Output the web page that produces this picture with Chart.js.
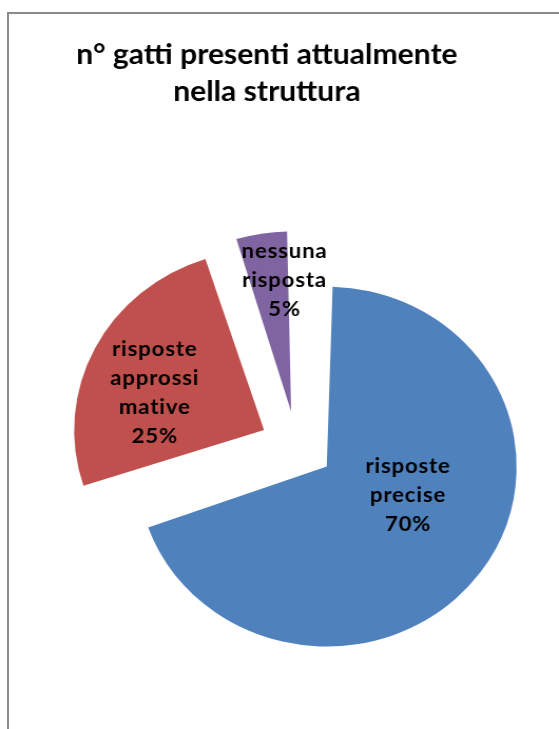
<!DOCTYPE html>
<html>
<head>
<meta charset="utf-8">
<script src="https://cdn.jsdelivr.net/npm/chart.js@4.4.1/dist/chart.umd.min.js"></script>
<style>
  html, body { margin: 0; padding: 0; background: #fff; overflow: hidden; }
  .frame {
    position: absolute; left: 7px; top: 12px; width: 600px; height: 800px;
    border-left: 2px solid #8a8a8a; border-top: 2px solid #8a8a8a;
  }
  .stage {
    position: absolute; left: 0; top: 0; width: 530px; height: 729px;
    transform: scaleX(1.0547); transform-origin: 0 0;
  }
</style>
</head>
<body>
<div class="frame"></div>
<div class="stage"><canvas id="chart"></canvas></div>
<script>
const titleLines = ["n° gatti presenti attualmente", "nella struttura"];
const categories = [["risposte", "precise"], ["risposte", "approssi", "mative"], ["nessuna", "risposta"]];
const values = [70, 25, 5];
const sliceColors = ["#4F81BD", "#C0504D", "#8064A2"];

// exploded slices: chart.js grows the radius of an offset arc, put it back to the pie radius
// and write the category + percentage inside each slice
const sliceLabels = {
  id: "sliceLabels",
  beforeDatasetsDraw(chart) {
    const meta = chart.getDatasetMeta(0);
    const R = meta.controller.outerRadius;
    meta.data.forEach(arc => {
      const shift = (arc.options.offset || 0) / 4;
      const fix = 1 - Math.sin(Math.min(Math.PI, arc.circumference));
      arc.outerRadius = R - shift * fix;
    });
  },
  afterDatasetsDraw(chart, args, opts) {
    const ctx = chart.ctx;
    const meta = chart.getDatasetMeta(0);
    const R = meta.controller.outerRadius;
    const total = values.reduce((a, b) => a + b, 0);
    ctx.save();
    ctx.font = opts.font;
    ctx.letterSpacing = opts.letterSpacing;
    ctx.fillStyle = "#000";
    ctx.textAlign = "center";
    ctx.textBaseline = "middle";
    meta.data.forEach((arc, i) => {
      const p = opts.place[i];
      const mid = (arc.startAngle + arc.endAngle) / 2;
      const shift = (arc.options.offset || 0) / 4;
      const a = arc.startAngle + p.t * (arc.endAngle - arc.startAngle);
      const cx = arc.x + Math.cos(mid) * shift + Math.cos(a) * p.r * R;
      const cy = arc.y + Math.sin(mid) * shift + Math.sin(a) * p.r * R;
      const lines = categories[i].concat(Math.round(values[i] / total * 100) + "%");
      lines.forEach((s, k) => {
        ctx.fillText(s, cx, cy + (k - (lines.length - 1) / 2) * opts.lineHeight);
      });
    });
    ctx.restore();
  },
  afterDraw(chart, args, opts) {
    const ctx = chart.ctx;
    ctx.save();
    ctx.font = opts.titleFont;
    ctx.fillStyle = "#000";
    ctx.textAlign = "center";
    ctx.textBaseline = "alphabetic";
    titleLines.forEach((s, k) => ctx.fillText(s, opts.titleX, opts.titleY + k * opts.titleLineHeight));
    ctx.restore();
  }
};

new Chart(document.getElementById("chart"), {
  type: "pie",
  data: {
    labels: categories.map(c => c.join(" ")),
    datasets: [{
      data: values,
      backgroundColor: sliceColors,
      borderWidth: 0,
      offset: 140,
      clip: false
    }]
  },
  options: {
    responsive: true,
    maintainAspectRatio: false,
    animation: false,
    radius: 180,
    layout: { padding: { left: 73, right: 40, top: 200, bottom: 37 } },
    plugins: {
      legend: { display: false },
      tooltip: { enabled: false },
      sliceLabels: {
        font: "bold 21px Lato",
        letterSpacing: "0.8px",
        lineHeight: 29,
        place: [{ t: 0.437, r: 0.456 }, { t: 0.418, r: 0.611 }, { t: 0.85, r: 0.732 }],
        titleFont: "bold 28.5px Lato",
        titleX: 253,
        titleY: 64,
        titleLineHeight: 37
      }
    }
  },
  plugins: [sliceLabels]
});
</script>
</body>
</html>
